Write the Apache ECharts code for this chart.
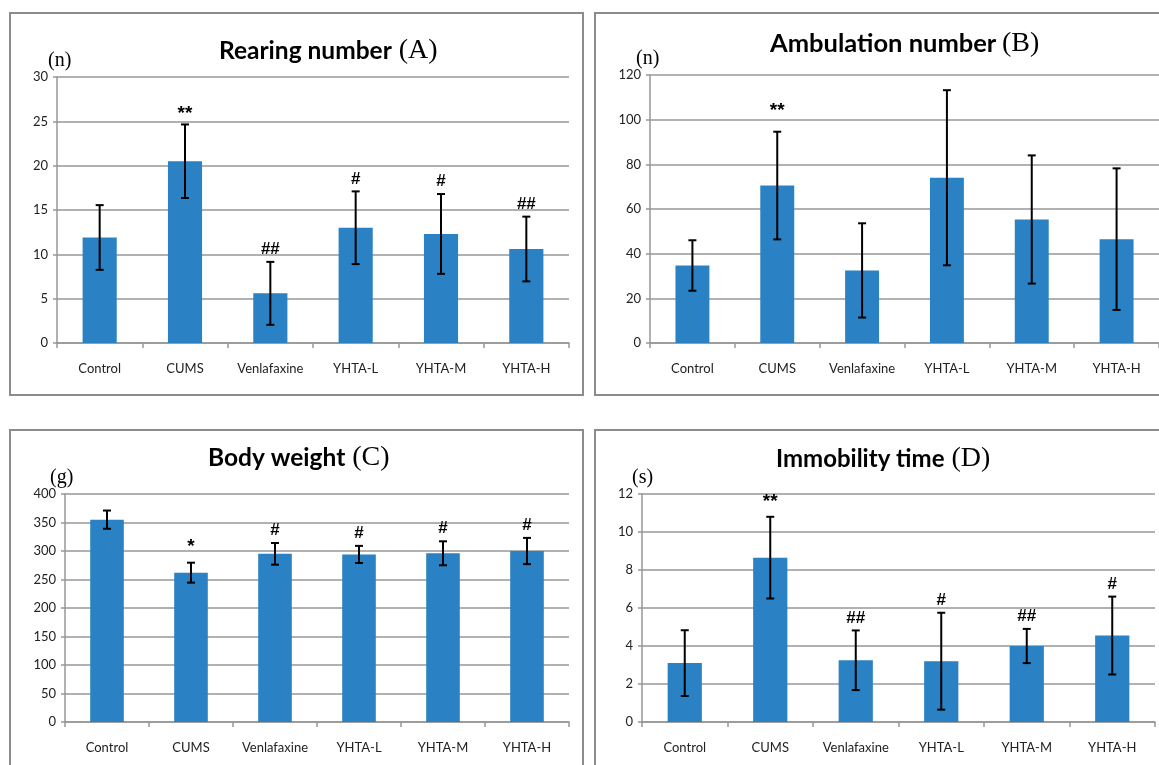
<!DOCTYPE html>
<html>
<head>
<meta charset="utf-8">
<script src="https://cdn.jsdelivr.net/npm/echarts@6/dist/echarts.min.js"></script>
<style>
  html, body { margin: 0; padding: 0; background: #fff; overflow: hidden; }
  body { width: 1159px; height: 765px; position: relative; }
  .panel { position: absolute; border: 2px solid #8c8c8c; box-sizing: border-box; }
  .panel > div { width: 100%; height: 100%; }
</style>
</head>
<body>
<div class="panel" style="left:9px;top:12px;width:575px;height:384px"><div id="chartA"></div></div>
<div class="panel" style="left:594px;top:12px;width:580px;height:384px"><div id="chartB"></div></div>
<div class="panel" style="left:9px;top:429px;width:575px;height:345px"><div id="chartC"></div></div>
<div class="panel" style="left:594px;top:429px;width:580px;height:345px"><div id="chartD"></div></div>
<script>
// groups on the x axis
var categories = ['Control', 'CUMS', 'Venlafaxine', 'YHTA-L', 'YHTA-M', 'YHTA-H'];

// (A) rearing number
var rearingMean = [11.9, 20.5, 5.6, 13.0, 12.3, 10.6];
var rearingSd = [3.65, 4.15, 3.55, 4.1, 4.5, 3.65];
var rearingMarks = ['', '**', '##', '#', '#', '##'];
var rearingTicks = { min: 0, max: 30, interval: 5 };

// (B) ambulation number
var ambulationMean = [34.7, 70.5, 32.5, 74.0, 55.3, 46.5];
var ambulationSd = [11.3, 24.1, 21.1, 39.2, 28.7, 31.7];
var ambulationMarks = ['', '**', '', '', '', ''];
var ambulationTicks = { min: 0, max: 120, interval: 20 };

// (C) body weight
var weightMean = [355, 262, 295, 294, 296, 300];
var weightSd = [16, 17.5, 19, 15, 21, 23];
var weightMarks = ['', '*', '#', '#', '#', '#'];
var weightTicks = { min: 0, max: 400, interval: 50 };

// (D) immobility time
var immobilityMean = [3.1, 8.65, 3.25, 3.2, 4.0, 4.55];
var immobilitySd = [1.73, 2.15, 1.57, 2.55, 0.9, 2.05];
var immobilityMarks = ['', '**', '##', '#', '##', '#'];
var immobilityTicks = { min: 0, max: 12, interval: 2 };

var BLUE = '#2a81c3';
var GRID_GRAY = '#979797';
var LABEL_FONT = 'Lato, "Open Sans", sans-serif';
var SERIF = '"Liberation Serif", "DejaVu Serif", serif';

function makeChart(id, cfg) {
  var chart = echarts.init(document.getElementById(id));

  var errData = cfg.mean.map(function (m, i) {
    return [i, m - cfg.sd[i], m + cfg.sd[i]];
  });

  var option = {
    animation: false,
    title: {
      text: '{a|' + cfg.title + '}{b|' + cfg.sep + '(' + cfg.letter + ')}',
      left: cfg.titleLeft,
      top: cfg.titleTop,
      textStyle: {
        rich: {
          a: { fontFamily: LABEL_FONT, fontWeight: 'bold', fontSize: cfg.titleSize, color: '#000' },
          b: { fontFamily: SERIF, fontWeight: 'normal', fontSize: 28, color: '#000' }
        }
      }
    },
    grid: { left: cfg.grid[0], top: cfg.grid[1], right: cfg.grid[2], bottom: cfg.grid[3] },
    xAxis: {
      type: 'category',
      data: categories,
      axisLine: { lineStyle: { color: GRID_GRAY, width: 1.5 } },
      axisTick: { show: true, length: 5, interval: 0, lineStyle: { color: GRID_GRAY, width: 1.5 } },
      axisLabel: { interval: 0, margin: 19, fontSize: 13, color: '#222', fontFamily: LABEL_FONT }
    },
    yAxis: {
      type: 'value',
      min: cfg.ticks.min,
      max: cfg.ticks.max,
      interval: cfg.ticks.interval,
      name: cfg.unit,
      nameLocation: 'end',
      nameGap: cfg.unitGap,
      nameTextStyle: {
        fontFamily: SERIF, fontSize: 20, color: '#000',
        align: 'left', verticalAlign: 'middle', padding: [0, 0, 0, cfg.unitShift]
      },
      axisLine: { show: true, lineStyle: { color: GRID_GRAY, width: 1.5 } },
      axisTick: { show: true, length: 4, lineStyle: { color: GRID_GRAY, width: 1.5 } },
      axisLabel: { margin: 9, fontSize: 13, color: '#222', fontFamily: LABEL_FONT },
      splitLine: { lineStyle: { color: GRID_GRAY, width: 1.5 } }
    },
    series: [
      {
        type: 'bar',
        data: cfg.mean,
        barWidth: '40%',
        itemStyle: { color: BLUE }
      },
      {
        type: 'custom',
        data: errData,
        z: 10,
        renderItem: function (params, api) {
          var x = api.value(0);
          var lo = api.coord([x, api.value(1)]);
          var hi = api.coord([x, api.value(2)]);
          var cap = 4;
          var lineStyle = { stroke: '#000', lineWidth: 2 };
          var children = [
            { type: 'line', shape: { x1: lo[0], y1: lo[1], x2: hi[0], y2: hi[1] }, style: lineStyle },
            { type: 'line', shape: { x1: hi[0] - cap, y1: hi[1], x2: hi[0] + cap, y2: hi[1] }, style: lineStyle },
            { type: 'line', shape: { x1: lo[0] - cap, y1: lo[1], x2: lo[0] + cap, y2: lo[1] }, style: lineStyle }
          ];
          var mark = cfg.marks[params.dataIndex];
          if (mark) {
            var star = mark.indexOf('*') >= 0;
            children.push({
              type: 'text',
              style: {
                text: mark,
                x: hi[0],
                y: hi[1] - (star ? cfg.starGap : cfg.hashGap),
                align: 'center',
                verticalAlign: 'bottom',
                font: 'bold ' + (star ? 19 : 17) + 'px "Liberation Sans", Arial, sans-serif',
                fill: '#000'
              }
            });
          }
          return { type: 'group', children: children };
        }
      }
    ]
  };

  chart.setOption(option);
  return chart;
}

makeChart('chartA', {
  title: 'Rearing number', letter: 'A', sep: ' ', titleSize: 24.5, titleLeft: 203, titleTop: 18,
  unit: '(n)', unitShift: -9, unitGap: 12,
  mean: rearingMean, sd: rearingSd, marks: rearingMarks, ticks: rearingTicks,
  grid: [46, 63, 13, 51], hashGap: 4, starGap: 1
});

makeChart('chartB', {
  title: 'Ambulation number', letter: 'B', sep: '\u2009', titleSize: 25.5, titleLeft: 169, titleTop: 11,
  unit: '(n)', unitShift: -14, unitGap: 11,
  mean: ambulationMean, sd: ambulationSd, marks: ambulationMarks, ticks: ambulationTicks,
  grid: [54, 61, 13, 51], hashGap: 4, starGap: 11
});

makeChart('chartC', {
  title: 'Body weight', letter: 'C', sep: ' ', titleSize: 24.5, titleLeft: 192, titleTop: 8,
  unit: '(g)', unitShift: -15, unitGap: 15,
  mean: weightMean, sd: weightSd, marks: weightMarks, ticks: weightTicks,
  grid: [54, 63, 13, 50], hashGap: 4, starGap: 6
});

makeChart('chartD', {
  title: 'Immobility time', letter: 'D', sep: ' ', titleSize: 24, titleLeft: 175, titleTop: 9,
  unit: '(s)', unitShift: -10, unitGap: 13,
  mean: immobilityMean, sd: immobilitySd, marks: immobilityMarks, ticks: immobilityTicks,
  grid: [46, 63, 17, 50], hashGap: 4, starGap: 6
});
</script>
</body>
</html>
